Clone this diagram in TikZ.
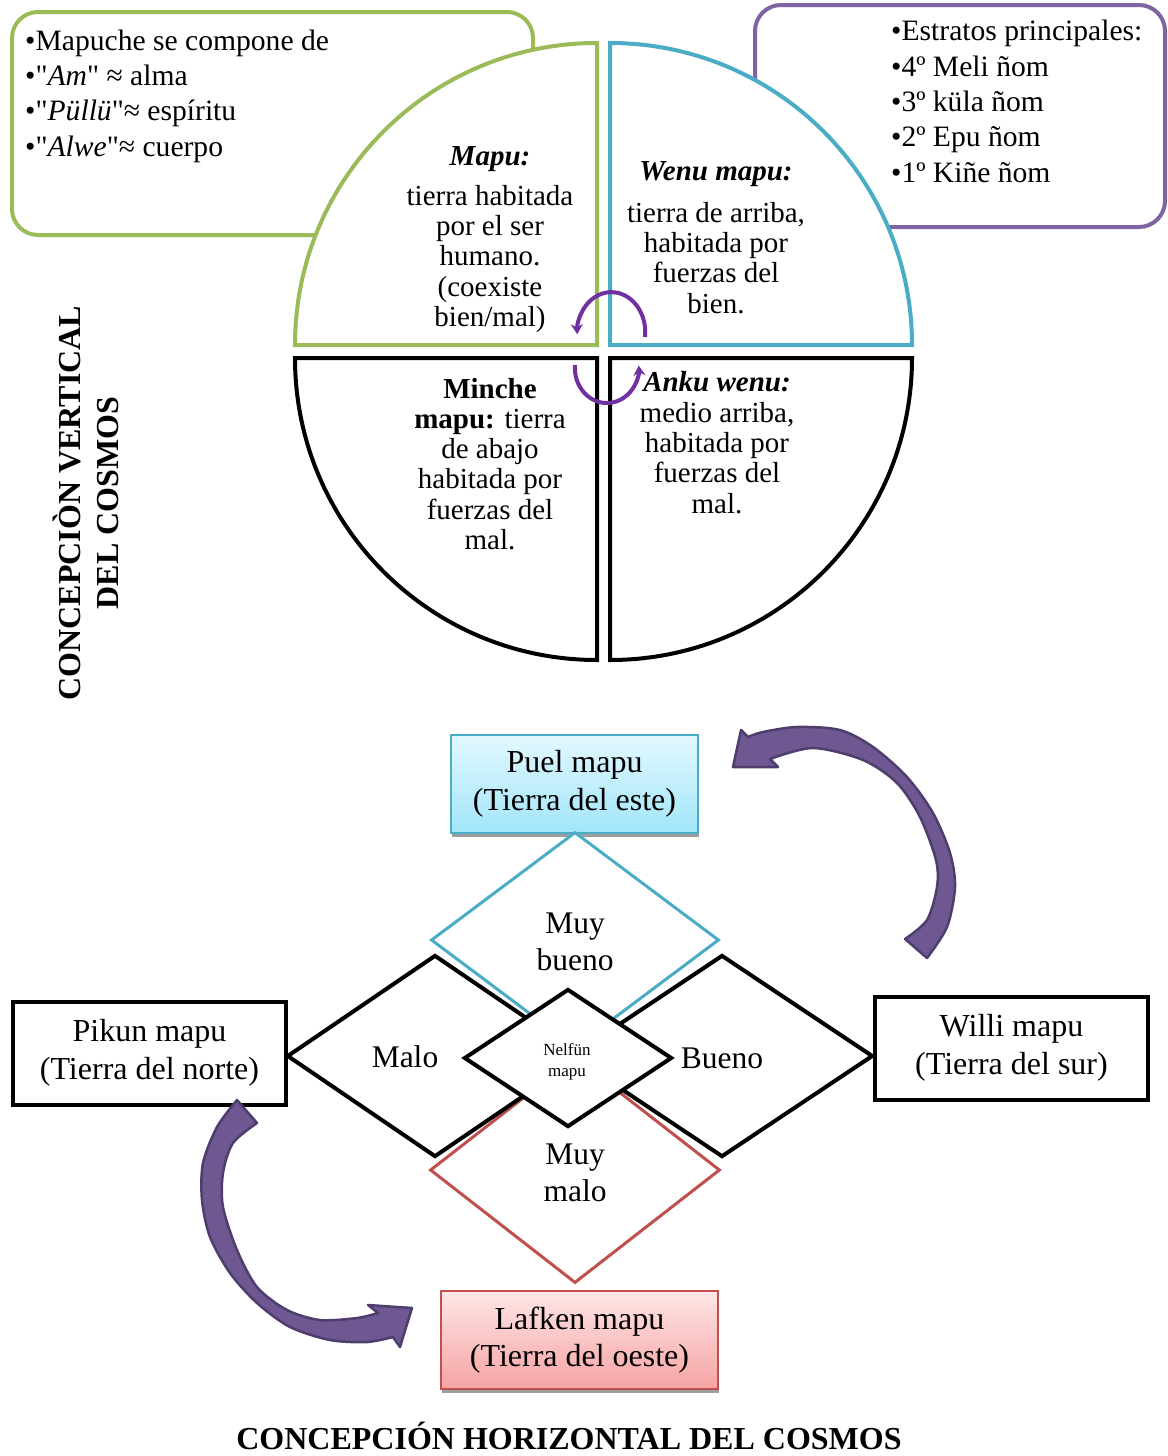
\documentclass[tikz,border=0pt]{standalone}
\usepackage{fontspec}
\setmainfont{Liberation Serif}[Ligatures=TeXOff]
\usetikzlibrary{arrows.meta,shapes.geometric,shadows}
\definecolor{cgreen}{HTML}{9BBB59}
\definecolor{cblue}{HTML}{4BACC6}
\definecolor{cpurplebox}{HTML}{8064A2}
\definecolor{carc}{HTML}{7030A0}
\definecolor{cred}{HTML}{C0504D}
\definecolor{cbigfill}{HTML}{6F5891}
\definecolor{cbigdraw}{HTML}{4F3D6E}
\definecolor{cpueltop}{HTML}{E2F8FE}
\definecolor{cpuelbot}{HTML}{A2E6FA}
\definecolor{claftop}{HTML}{FFE6E6}
\definecolor{clafbot}{HTML}{F6A3A3}
\begin{document}
\begin{tikzpicture}[x=1pt,y=-1pt,
  quad/.style={fill=white,line width=4pt,line join=miter},
  qtxt/.style={font=\fontsize{29}{30.3}\selectfont,align=center,anchor=base,inner sep=0pt},
  listtxt/.style={font=\fontsize{29.6}{35.3}\selectfont,align=left,anchor=base west,inner sep=0pt},
  hbox/.style={draw=black,line width=4pt,minimum width=273pt,minimum height=103pt,align=center,font=\fontsize{32}{37.5}\selectfont,fill=white,inner sep=0pt},
  cbox/.style={line width=1.5pt,minimum height=98pt,align=center,font=\fontsize{32}{37.5}\selectfont,inner sep=0pt,drop shadow={shadow xshift=1pt,shadow yshift=-4pt,fill=black!38,opacity=1}},
  dia/.style={diamond,fill=white,inner sep=0pt},
  dtxt/.style={font=\fontsize{31.5}{37}\selectfont,align=center,anchor=base,inner sep=0pt},
  smallarc/.style={draw=carc,line width=4pt,-{Stealth[length=10pt,width=12pt]}},
  bigarrow/.style={fill=cbigfill,draw=cbigdraw,line width=2.5pt,line join=round},
  title/.style={font=\fontsize{32}{38}\selectfont\bfseries,align=center,inner sep=0pt}
]
\useasboundingbox (0,0) rectangle (1167,1456);

% background text boxes
\draw[cgreen,line width=4pt,rounded corners=26pt] (12,12) rectangle (533,235);
\draw[cpurplebox,line width=4pt,rounded corners=26pt] (755,5) rectangle (1165,227);

% quadrants
\draw[quad,draw=cgreen] (597,345) -- (295,345) arc[start angle=180,end angle=270,radius=302] -- cycle;
\draw[quad,draw=cblue] (610,345) -- (610,43) arc[start angle=270,end angle=360,radius=302] -- cycle;
\draw[quad,draw=black] (597,358) -- (295,358) arc[start angle=180,end angle=90,radius=302] -- cycle;
\draw[quad,draw=black] (610,358) -- (912,358) arc[start angle=0,end angle=90,radius=302] -- cycle;

% list texts (anchor = baseline of last line)
\node[listtxt] (lista) at (25,156) {•Mapuche se compone de\\•"\textit{Am}" ≈ alma\\•"\textit{Püllü}"≈ espíritu\\•"\textit{Alwe}"≈ cuerpo};
\node[listtxt] (listb) at (891,182) {•Estratos principales:\\•4º Meli ñom\\•3º küla ñom\\•2º Epu ñom\\•1º Kiñe ñom};

% quadrant texts (anchor = baseline of last line)
\node[qtxt] (mapu) at (490,326.5) {\textbf{\textit{Mapu:}}\\[9.7pt]tierra habitada\\por el ser\\humano.\\(coexiste\\bien/mal)};
\node[qtxt] (wenu) at (716,313) {\textbf{\textit{Wenu mapu:}}\\[11.7pt]tierra de arriba,\\habitada por\\fuerzas del\\bien.};
\node[qtxt] (minche) at (490,549.5) {\textbf{Minche}\\\textbf{mapu:} tierra\\de abajo\\habitada por\\fuerzas del\\mal.};
\node[qtxt] (anku) at (717,513) {\textbf{\textit{Anku wenu:}}\\medio arriba,\\habitada por\\fuerzas del\\mal.};

% small cycle arrows
\coordinate (arcA) at (645,337);
\coordinate (arcB) at (575,365);
\draw[smallarc] (arcA) arc[start angle=7,end angle=-183,x radius=34,y radius=40];
\draw[smallarc] (arcB) arc[start angle=185,end angle=-4,x radius=32,y radius=35];

% vertical title
\node[title,rotate=90] (vtitle) at (86,503) {CONCEPCIÒN VERTICAL\\DEL COSMOS};

% horizontal cosmos
\node[cbox,draw=cblue,top color=cpueltop,bottom color=cpuelbot,minimum width=247pt] (puel) at (574.5,784) {Puel mapu\\(Tierra del este)};
\node[cbox,draw=cred,top color=claftop,bottom color=clafbot,minimum width=277pt] (lafken) at (579.5,1340) {Lafken mapu\\(Tierra del oeste)};

\node[dia,draw=cblue,line width=3pt,minimum width=288pt,minimum height=216pt] (mbueno) at (575,940) {};
\node[dia,draw=cred,line width=3pt,minimum width=290pt,minimum height=226pt] (mmalo) at (575,1170) {};
\node[dia,draw=black,line width=4pt,minimum width=296pt,minimum height=202pt] (malo) at (435,1056) {};
\node[dia,draw=black,line width=4pt,minimum width=302pt,minimum height=202pt] (bueno) at (722,1056) {};
\node[dia,draw=black,line width=4pt,minimum width=208pt,minimum height=138pt] (nelfun) at (568,1058) {};

\node[dtxt] (tmbueno) at (575,970) {Muy\\bueno};
\node[dtxt] (tmalo) at (405,1067) {Malo};
\node[dtxt] (tbueno) at (722,1068) {Bueno};
\node[dtxt] (tmmalo) at (575,1201) {Muy\\malo};
\node[font=\fontsize{17}{21}\selectfont,align=center,anchor=base,inner sep=0pt] (tnelfun) at (567,1076) {Nelfün\\mapu};

\node[hbox] (pikun) at (149.5,1053) {Pikun mapu\\(Tierra del norte)};
\node[hbox] (willi) at (1011.5,1048) {Willi mapu\\(Tierra del sur)};

% big curved arrows
\path[bigarrow] plot[smooth] coordinates {(927,958) (947,927) (955,887) (950,853) (933,813) (907,777) (873,747) (840,730) (797,727) (763,732) (748,737)}
  -- (741,730) -- (733,767) -- (778,767) -- (770,759)
  -- plot[smooth] coordinates {(770,759) (813,748) (863,760) (897,783) (920,817) (936,860) (937,887) (927,920) (905,939)} -- cycle;
\path[bigarrow] plot[smooth] coordinates {(237,1100) (217,1127) (203,1163) (202,1200) (210,1237) (230,1273) (257,1303) (290,1327) (330,1340) (367,1342) (393,1337)}
  -- (400,1347) -- (412,1308) -- (368,1305) -- (378,1313)
  -- plot[smooth] coordinates {(378,1313) (357,1318) (320,1320) (287,1310) (257,1287) (237,1250) (223,1207) (223,1173) (233,1143) (257,1123)} -- cycle;

% bottom title
\node[title,anchor=base] (htitle) at (569,1449) {CONCEPCIÓN HORIZONTAL DEL COSMOS};
\end{tikzpicture}
\end{document}
